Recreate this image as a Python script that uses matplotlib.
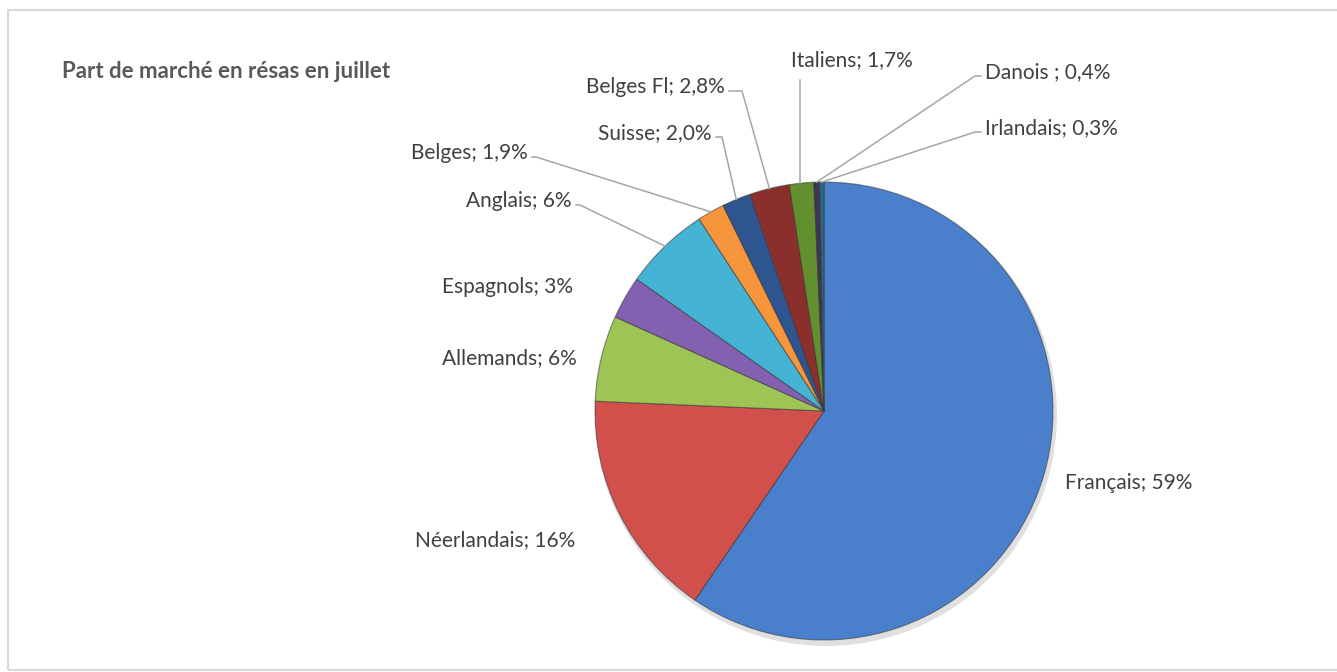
import numpy as np
import matplotlib.pyplot as plt
from matplotlib.patches import Rectangle

# Données
pays = ['Français', 'Néerlandais', 'Allemands', 'Espagnols', 'Anglais', 'Belges',
        'Suisse', 'Belges Fl', 'Italiens', 'Danois ', 'Irlandais']
parts = [59, 16, 6, 3, 6, 1.9, 2.0, 2.8, 1.7, 0.4, 0.3]
etiquettes = ['59%', '16%', '6%', '3%', '6%', '1,9%', '2,0%', '2,8%', '1,7%', '0,4%', '0,3%']
couleurs = ['#4a7fcb', '#d2504c', '#9dc455', '#8460b0', '#45b4d4', '#f7953d',
            '#2e5590', '#8b2f2d', '#62902e', '#3e3358', '#2a6a80']

W, H = 1337, 672
plt.rcParams['font.family'] = ['Lato', 'DejaVu Sans']

fig = plt.figure(figsize=(W / 100, H / 100), dpi=100)
ax = fig.add_axes([0, 0, 1, 1])
ax.set_xlim(0, W)
ax.set_ylim(0, H)
ax.set_aspect('equal')
ax.axis('off')

# cadre
ax.add_patch(Rectangle((8, 2), W + 5, H - 12, fill=False, edgecolor='#d9d9d9', lw=1.5))

cx, cy, r = 824, H - 411, 229
# ombre
ax.add_patch(plt.Circle((cx + 2, cy - 4), r + 2, color='#000000', alpha=0.12, lw=0))
wedges, _ = ax.pie(parts, colors=couleurs, startangle=90, counterclock=False,
                   center=(cx, cy), radius=r, normalize=True,
                   wedgeprops=dict(edgecolor='#33333388', linewidth=0.8))
ax.set_xlim(0, W)
ax.set_ylim(0, H)

# positions des étiquettes (pixels) : (x, y, ha, coude)
pos = [
    (1065, 483, 'left', None),
    (575, 540, 'right', None),
    (577, 358, 'right', None),
    (573, 287, 'right', None),
    (572, 201, 'right', (580, 205)),
    (528, 153, 'right', (536, 157)),
    (712, 133, 'right', (722, 137)),
    (725, 87, 'right', (742, 91)),
    (852, 60, 'center', (800, 80)),
    (985, 72, 'left', (975, 76)),
    (985, 128, 'left', (975, 132)),
]

for w, nom, lab, (x, y, ha, coude) in zip(wedges, pays, etiquettes, pos):
    ax.text(x, H - y, f'{nom}; {lab}', ha=ha, va='center', fontsize=15, color='#404040')
    if coude is not None:
        a = np.deg2rad((w.theta1 + w.theta2) / 2)
        px, py = cx + r * np.cos(a), cy + r * np.sin(a)
        bx, by = coude
        if ha == 'center':
            xs, ys = [bx, bx], [H - by, py]
        else:
            ex = x + 4 if ha == 'right' else x - 4
            xs, ys = [ex, bx, px], [H - by, H - by, py]
        ax.plot(xs, ys, color='#a6a6a6', lw=1.1)

ax.text(62, H - 72, 'Part de marché en résas en juillet', fontsize=16, fontweight='bold',
        color='#595959', ha='left', va='center')

plt.savefig('out.png', dpi=100)
